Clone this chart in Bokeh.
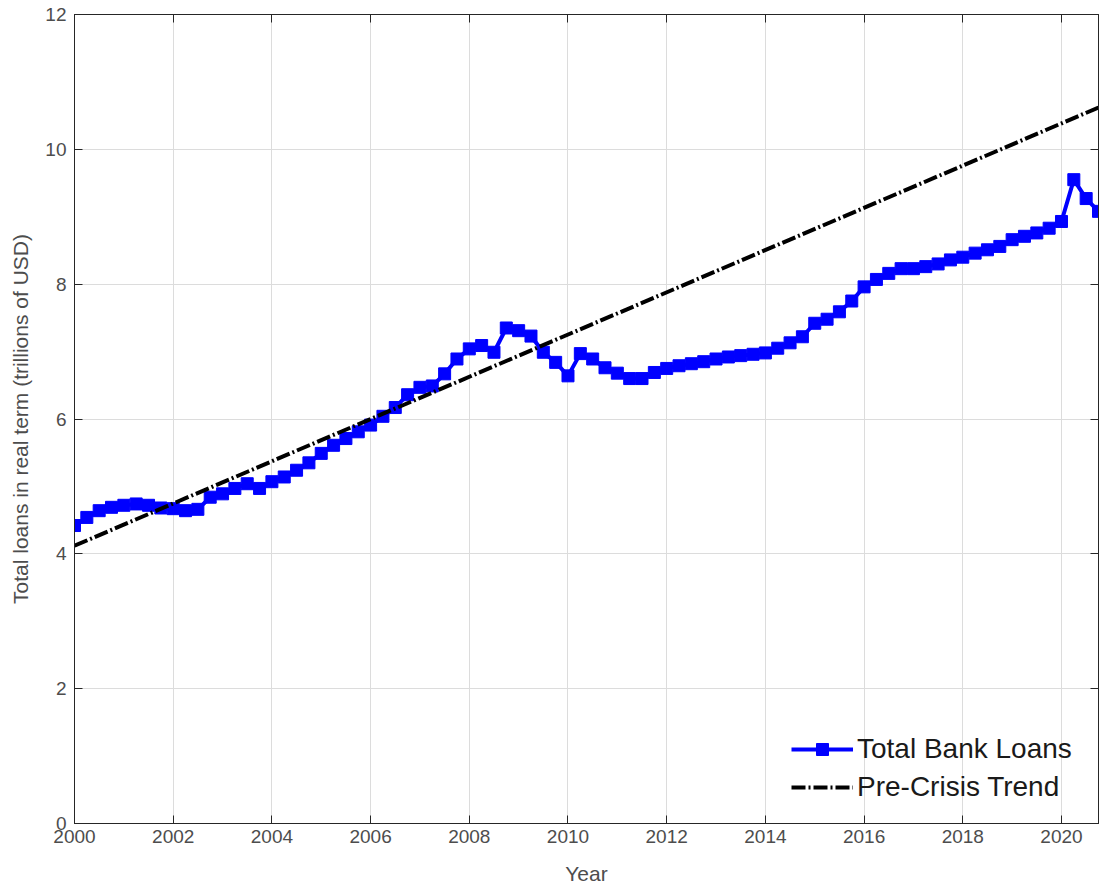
from bokeh.plotting import figure
from bokeh.models import (LinearAxis, Legend, LegendItem, FixedTicker, Range1d,
                          ColumnDataSource, CustomJSTickFormatter)
from bokeh.embed import file_html
from bokeh.resources import INLINE

# ---------------- data ----------------
quarters = [
    2000.00, 2000.25, 2000.50, 2000.75, 2001.00, 2001.25, 2001.50, 2001.75,
    2002.00, 2002.25, 2002.50, 2002.75, 2003.00, 2003.25, 2003.50, 2003.75,
    2004.00, 2004.25, 2004.50, 2004.75, 2005.00, 2005.25, 2005.50, 2005.75,
    2006.00, 2006.25, 2006.50, 2006.75, 2007.00, 2007.25, 2007.50, 2007.75,
    2008.00, 2008.25, 2008.50, 2008.75, 2009.00, 2009.25, 2009.50, 2009.75,
    2010.00, 2010.25, 2010.50, 2010.75, 2011.00, 2011.25, 2011.50, 2011.75,
    2012.00, 2012.25, 2012.50, 2012.75, 2013.00, 2013.25, 2013.50, 2013.75,
    2014.00, 2014.25, 2014.50, 2014.75, 2015.00, 2015.25, 2015.50, 2015.75,
    2016.00, 2016.25, 2016.50, 2016.75, 2017.00, 2017.25, 2017.50, 2017.75,
    2018.00, 2018.25, 2018.50, 2018.75, 2019.00, 2019.25, 2019.50, 2019.75,
    2020.00, 2020.25, 2020.50, 2020.75,
]
total_bank_loans = [
    4.42, 4.54, 4.64, 4.69, 4.72, 4.74, 4.72, 4.68,
    4.67, 4.64, 4.66, 4.84, 4.89, 4.97, 5.04, 4.97,
    5.07, 5.14, 5.24, 5.35, 5.49, 5.61, 5.71, 5.81,
    5.91, 6.04, 6.17, 6.36, 6.47, 6.49, 6.67, 6.89,
    7.04, 7.09, 6.99, 7.35, 7.31, 7.23, 6.99, 6.84,
    6.64, 6.97, 6.89, 6.76, 6.68, 6.60, 6.60, 6.69,
    6.75, 6.79, 6.82, 6.85, 6.89, 6.92, 6.94, 6.96,
    6.98, 7.05, 7.13, 7.22, 7.42, 7.48, 7.59, 7.75,
    7.96, 8.07, 8.16, 8.23, 8.23, 8.26, 8.30, 8.36,
    8.40, 8.46, 8.51, 8.56, 8.66, 8.71, 8.76, 8.83,
    8.93, 9.55, 9.27, 9.08,
]
trend_years = [2000.0, 2020.75]
trend_values = [4.12, 10.62]

x_ticks = [2000, 2002, 2004, 2006, 2008, 2010, 2012, 2014, 2016, 2018, 2020]
y_ticks = [0, 2, 4, 6, 8, 10, 12]

FONT = "Liberation Sans"
AX = "#262626"
TXT = "#4d4d4d"

p = figure(width=1099, height=889, output_backend="svg", toolbar_location=None,
           x_range=Range1d(2000, 2020.75), y_range=Range1d(0, 12),
           min_border_left=74, min_border_right=1, min_border_top=14, min_border_bottom=66,
           x_axis_label="Year", y_axis_label="Total loans in real term (trillions of USD)")
p.background_fill_color = "white"
p.border_fill_color = "white"
p.outline_line_color = AX
p.outline_line_width = 1

for ax in (p.xaxis[0], p.yaxis[0]):
    ax.axis_line_color = AX
    ax.major_tick_line_color = AX
    ax.major_tick_in = 8
    ax.major_tick_out = 0
    ax.minor_tick_line_color = None
    ax.major_label_text_font = FONT
    ax.major_label_text_font_size = "19px"
    ax.major_label_text_color = TXT
    ax.axis_label_text_font = FONT
    ax.axis_label_text_font_size = "21px"
    ax.axis_label_text_font_style = "normal"
    ax.axis_label_text_color = TXT

p.xaxis.ticker = FixedTicker(ticks=x_ticks)
p.yaxis.ticker = FixedTicker(ticks=y_ticks)
p.xaxis.major_label_standoff = 6
p.yaxis.major_label_standoff = 8
p.xaxis.axis_label_standoff = 16
p.yaxis.axis_label_standoff = 10

# box ticks on top and right (no labels)
blank = CustomJSTickFormatter(code="return '';")
top = LinearAxis(ticker=FixedTicker(ticks=x_ticks), formatter=blank,
                 major_label_standoff=0, major_tick_in=8, major_tick_out=0,
                 minor_tick_line_color=None, axis_line_color=AX, major_tick_line_color=AX)
right = LinearAxis(ticker=FixedTicker(ticks=y_ticks), formatter=blank,
                   major_label_standoff=0, major_tick_in=8, major_tick_out=0,
                   minor_tick_line_color=None, axis_line_color=AX, major_tick_line_color=AX)
p.add_layout(top, "above")
p.add_layout(right, "right")

p.xgrid.ticker = FixedTicker(ticks=x_ticks)
p.ygrid.ticker = FixedTicker(ticks=y_ticks)
p.grid.grid_line_color = "#dcdcdc"
p.grid.grid_line_width = 1

src = ColumnDataSource(dict(x=quarters, y=total_bank_loans))
loans_line = p.line("x", "y", source=src, line_color="#0000ff", line_width=4)
loans_pts = p.scatter("x", "y", source=src, marker="square", size=12,
                      fill_color="#0000ff", line_color="#0000ff", line_width=1)

trend_src = ColumnDataSource(dict(x=trend_years, y=trend_values))
trend_line = p.line("x", "y", source=trend_src, line_color="black", line_width=4,
                    line_dash="14 3 2 3")

legend = Legend(items=[
    LegendItem(label="Total Bank Loans", renderers=[loans_line, loans_pts]),
    LegendItem(label="Pre-Crisis Trend", renderers=[trend_line]),
], location=(717, 20))
legend.background_fill_alpha = 0
legend.border_line_alpha = 0
legend.label_text_font = FONT
legend.label_text_font_size = "28px"
legend.label_text_color = "#1a1a1a"
legend.glyph_width = 62
legend.glyph_height = 30
legend.label_standoff = 4
legend.spacing = 6
legend.padding = 0
legend.margin = 0
p.add_layout(legend)

open("out.html", "w").write(file_html(p, INLINE))
